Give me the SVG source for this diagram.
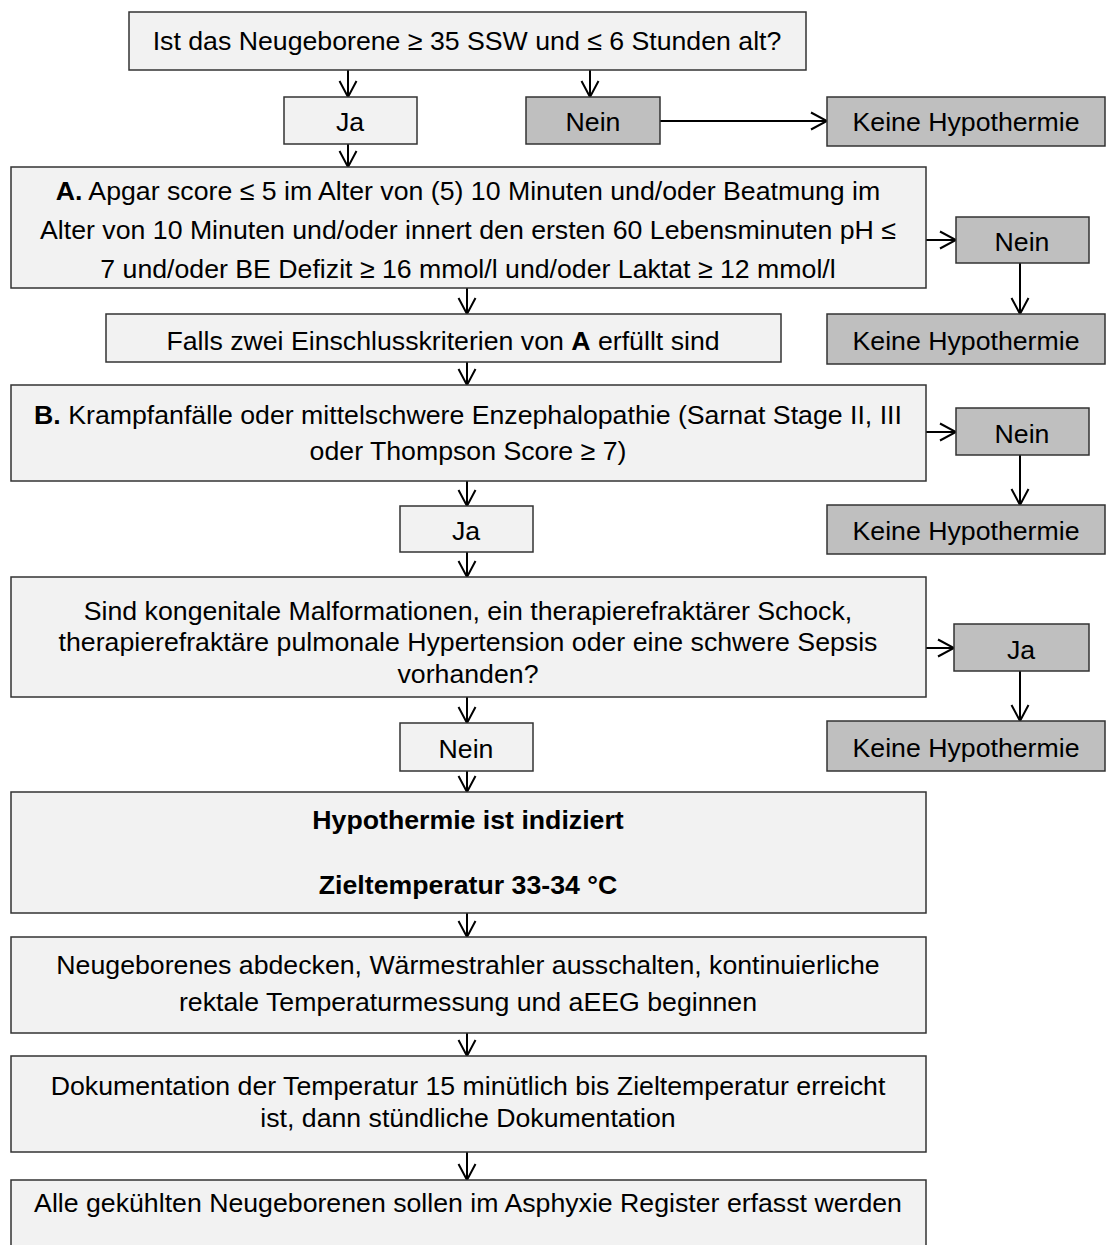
<svg xmlns="http://www.w3.org/2000/svg" width="1108" height="1245" viewBox="0 0 1108 1245">
<defs>
<style>
.box{fill:#f2f2f2;stroke:#333;stroke-width:1.5}
.gray{fill:#bfbfbf;stroke:#333;stroke-width:1.5}
text{font-family:"Liberation Sans",Arial,sans-serif;font-size:26.7px;fill:#000;text-anchor:middle}
.b{font-weight:bold}
.c{stroke:#000;stroke-width:2;fill:none;marker-end:url(#ah)}
</style>
<marker id="ah" viewBox="0 0 20 20" refX="18" refY="10" markerWidth="20" markerHeight="20" markerUnits="userSpaceOnUse" orient="auto">
<path d="M2,1.5 L18,10 L2,18.5" fill="none" stroke="#000" stroke-width="2"/>
</marker>
</defs>
<rect width="1108" height="1245" fill="#fff"/>

<g id="connectors">
<line class="c" x1="348" y1="70" x2="348" y2="97"/>
<line class="c" x1="590" y1="70" x2="590" y2="97"/>
<line class="c" x1="660" y1="121" x2="827" y2="121"/>
<line class="c" x1="348" y1="144" x2="348" y2="167"/>
<line class="c" x1="926" y1="240" x2="956" y2="240"/>
<line class="c" x1="1020" y1="263" x2="1020" y2="314"/>
<line class="c" x1="467" y1="288" x2="467" y2="314"/>
<line class="c" x1="467" y1="362" x2="467" y2="385"/>
<line class="c" x1="926" y1="432" x2="956" y2="432"/>
<line class="c" x1="1020" y1="455" x2="1020" y2="505"/>
<line class="c" x1="467" y1="481" x2="467" y2="506"/>
<line class="c" x1="467" y1="552" x2="467" y2="577"/>
<line class="c" x1="926" y1="648" x2="954" y2="648"/>
<line class="c" x1="1020" y1="671" x2="1020" y2="721"/>
<line class="c" x1="467" y1="697" x2="467" y2="723"/>
<line class="c" x1="467" y1="771" x2="467" y2="792"/>
<line class="c" x1="467" y1="913" x2="467" y2="937"/>
<line class="c" x1="467" y1="1033" x2="467" y2="1056"/>
<line class="c" x1="467" y1="1152" x2="467" y2="1180"/>
</g>

<g id="n_start"><rect class="box" x="129" y="12" width="677" height="58"/>
<text x="467" y="50">Ist das Neugeborene ≥ 35 SSW und ≤ 6 Stunden alt?</text></g>

<g id="n_ja1"><rect class="box" x="284" y="97" width="133" height="47"/>
<text x="350" y="131">Ja</text></g>

<g id="n_nein1"><rect class="gray" x="526" y="97" width="134" height="47"/>
<text x="593" y="131">Nein</text></g>

<g id="n_keine1"><rect class="gray" x="827" y="97" width="278" height="49"/>
<text x="966" y="131">Keine Hypothermie</text></g>

<g id="n_a"><rect class="box" x="11" y="167" width="915" height="121"/>
<text x="468" y="200"><tspan class="b">A.</tspan> Apgar score ≤ 5 im Alter von (5) 10 Minuten und/oder Beatmung im</text>
<text x="468" y="239">Alter von 10 Minuten und/oder innert den ersten 60 Lebensminuten pH ≤</text>
<text x="468" y="278">7 und/oder BE Defizit ≥ 16 mmol/l und/oder Laktat ≥ 12 mmol/l</text></g>

<g id="n_nein2"><rect class="gray" x="956" y="217" width="133" height="46"/>
<text x="1022" y="251">Nein</text></g>

<g id="n_keine2"><rect class="gray" x="827" y="314" width="278" height="50"/>
<text x="966" y="350">Keine Hypothermie</text></g>

<g id="n_falls"><rect class="box" x="106" y="314" width="675" height="48"/>
<text x="443" y="350">Falls zwei Einschlusskriterien von <tspan class="b">A</tspan> erfüllt sind</text></g>

<g id="n_b"><rect class="box" x="11" y="385" width="915" height="96"/>
<text x="468" y="424"><tspan class="b">B.</tspan> Krampfanfälle oder mittelschwere Enzephalopathie (Sarnat Stage II, III</text>
<text x="468" y="460">oder Thompson Score ≥ 7)</text></g>

<g id="n_nein3"><rect class="gray" x="956" y="408" width="133" height="47"/>
<text x="1022" y="443">Nein</text></g>

<g id="n_keine3"><rect class="gray" x="827" y="505" width="278" height="49"/>
<text x="966" y="540">Keine Hypothermie</text></g>

<g id="n_ja2"><rect class="box" x="400" y="506" width="133" height="46"/>
<text x="466" y="540">Ja</text></g>

<g id="n_sind"><rect class="box" x="11" y="577" width="915" height="120"/>
<text x="468" y="620">Sind kongenitale Malformationen, ein therapierefraktärer Schock,</text>
<text x="468" y="651">therapierefraktäre pulmonale Hypertension oder eine schwere Sepsis</text>
<text x="468" y="683">vorhanden?</text></g>

<g id="n_ja3"><rect class="gray" x="954" y="624" width="135" height="47"/>
<text x="1021" y="659">Ja</text></g>

<g id="n_keine4"><rect class="gray" x="827" y="721" width="278" height="50"/>
<text x="966" y="757">Keine Hypothermie</text></g>

<g id="n_nein4"><rect class="box" x="400" y="723" width="133" height="48"/>
<text x="466" y="758">Nein</text></g>

<g id="n_hypo"><rect class="box" x="11" y="792" width="915" height="121"/>
<text class="b" x="468" y="829">Hypothermie ist indiziert</text>
<text class="b" x="468" y="894">Zieltemperatur 33-34 °C</text></g>

<g id="n_neug"><rect class="box" x="11" y="937" width="915" height="96"/>
<text x="468" y="974">Neugeborenes abdecken, Wärmestrahler ausschalten, kontinuierliche</text>
<text x="468" y="1011">rektale Temperaturmessung und aEEG beginnen</text></g>

<g id="n_doku"><rect class="box" x="11" y="1056" width="915" height="96"/>
<text x="468" y="1095">Dokumentation der Temperatur 15 minütlich bis Zieltemperatur erreicht</text>
<text x="468" y="1127">ist, dann stündliche Dokumentation</text></g>

<g id="n_alle"><rect class="box" x="11" y="1180" width="915" height="80"/>
<text x="468" y="1212">Alle gekühlten Neugeborenen sollen im Asphyxie Register erfasst werden</text></g>
</svg>
